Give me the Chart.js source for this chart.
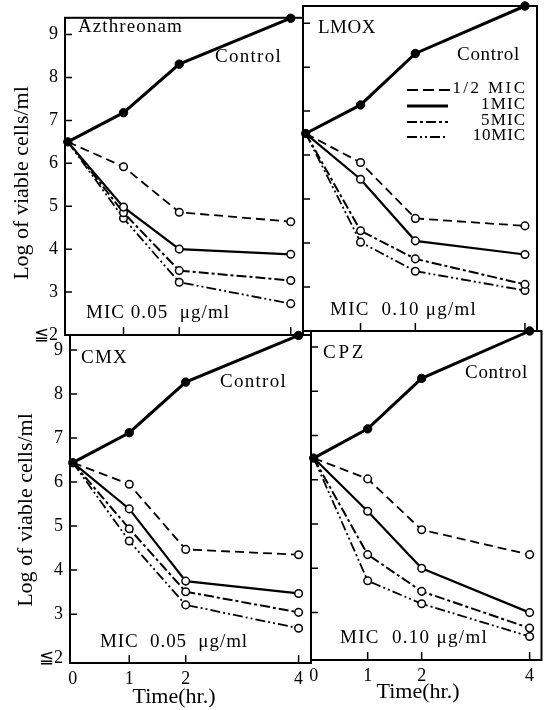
<!DOCTYPE html>
<html>
<head>
<meta charset="utf-8">
<script src="https://cdn.jsdelivr.net/npm/chart.js@4"></script>
<style>
  body { margin: 0; background: #fff; }
  canvas { position: absolute; left: 0; top: 0; }
</style>
</head>
<body>
<canvas id="c0" width="547" height="710"></canvas>
<canvas id="c1" width="547" height="710"></canvas>
<canvas id="c2" width="547" height="710"></canvas>
<canvas id="c3" width="547" height="710"></canvas>
<script>
// time points (hr) and axis ticks
const hours = [0, 1, 2, 4];
const xTickMarks = [1, 2, 4];
const yTickValues = [2, 3, 4, 5, 6, 7, 8, 9];
const seriesLabels = ['Control', '1/2 MIC', '1MIC', '5MIC', '10MIC'];
const drugNames = ['Azthreonam', 'LMOX', 'CMX', 'CPZ'];
const micTexts = ['MIC 0.05  μg/ml', 'MIC  0.10 μg/ml', 'MIC  0.05  μg/ml', 'MIC  0.10 μg/ml'];

// log of viable cells/ml
const aztControl = [6.5, 7.18, 8.31, 9.38];
const aztHalf    = [6.5, 5.92, 4.86, 4.64];
const azt1       = [6.5, 4.98, 4.0, 3.88];
const azt5       = [6.5, 4.85, 3.5, 3.27];
const azt10      = [6.5, 4.72, 3.23, 2.73];

const lmoxControl = [6.49, 7.14, 8.31, 9.39];
const lmoxHalf    = [6.49, 5.83, 4.56, 4.39];
const lmox1       = [6.49, 5.45, 4.05, 3.74];
const lmox5       = [6.49, 4.28, 3.64, 3.06];
const lmox10      = [6.49, 4.02, 3.36, 2.92];

const cmxControl = [6.44, 7.12, 8.27, 9.33];
const cmxHalf    = [6.44, 5.95, 4.47, 4.35];
const cmx1       = [6.44, 5.39, 3.75, 3.47];
const cmx5       = [6.44, 4.94, 3.51, 3.04];
const cmx10      = [6.44, 4.66, 3.21, 2.68];

const cpzControl = [6.49, 7.15, 8.29, 9.36];
const cpzHalf    = [6.49, 6.02, 4.87, 4.31];
const cpz1       = [6.49, 5.29, 4.0, 3.0];
const cpz5       = [6.49, 4.31, 3.48, 2.65];
const cpz10      = [6.49, 3.72, 3.2, 2.46];

const panelSeries = [
  [aztControl, aztHalf, azt1, azt5, azt10],
  [lmoxControl, lmoxHalf, lmox1, lmox5, lmox10],
  [cmxControl, cmxHalf, cmx1, cmx5, cmx10],
  [cpzControl, cpzHalf, cpz1, cpz5, cpz10]
];

// line looks per series
const lineWidths = [3, 1.8, 2.2, 2, 1.8];
const lineDashes = [[], [9, 5], [], [10, 3, 3, 3], [10, 3, 2, 3, 2, 3]];

// where each panel sits on the page (the scan is slightly skewed)
const panels = [
  { left: 65, top: 10, right: 303, bottom: 335, yMin: 2, yMax: 9.39, yLabels: true, xLabels: false,
    name: [78, 27, 105], control: [215, 57, 67], mic: [86, 313, 144], yTitle: [22, 183] },
  { left: 303, top: 6, right: 537, bottom: 331, yMin: 2, yMax: 9.39, yLabels: false, xLabels: false,
    name: [318, 28, 58], control: [457, 55, 63], mic: [330, 310, 147], legend: true },
  { left: 70, top: 335, right: 311, bottom: 663, yMin: 1.89, yMax: 9.34, yLabels: true, xLabels: true,
    name: [81, 358, 47], control: [220, 382, 67], mic: [100, 642, 148], yTitle: [26, 510], xTitle: [174, 697] },
  { left: 311, top: 331, right: 544, bottom: 660, yMin: 1.93, yMax: 9.36, yLabels: false, xLabels: true,
    name: [323, 353, 43], control: [465, 373, 63], mic: [340, 638, 148], xTitle: [418, 692] }
];

const SERIF = "'Liberation Serif', 'DejaVu Serif', serif";

// draw text stretched to a target width with letter spacing
function fitText(ctx, text, x, y, width, align) {
  ctx.letterSpacing = '0px';
  const w = ctx.measureText(text).width;
  const s = (width - w) / text.length;
  ctx.letterSpacing = s.toFixed(2) + 'px';
  ctx.textAlign = align || 'left';
  ctx.fillText(text, align === 'right' ? x + s : x, y);
  ctx.letterSpacing = '0px';
}

const panelDecor = {
  id: 'panelDecor',
  beforeDatasetsDraw(chart, args, opts) {
    const { ctx, chartArea: a, scales: { x, y } } = chart;
    ctx.save();
    ctx.strokeStyle = '#000';
    ctx.lineWidth = 2;
    ctx.strokeRect(a.left, a.top, a.right - a.left, a.bottom - a.top);

    // inward tick marks
    ctx.lineWidth = 1.5;
    ctx.beginPath();
    yTickValues.filter(v => v > 2).forEach(v => {
      const py = y.getPixelForValue(v);
      ctx.moveTo(a.left, py);
      ctx.lineTo(a.left + 7, py);
    });
    xTickMarks.forEach(v => {
      const px = x.getPixelForValue(v);
      ctx.moveTo(px, a.bottom);
      ctx.lineTo(px, a.bottom - 8);
    });
    ctx.stroke();

    // labels
    const p = opts.panel;
    ctx.fillStyle = '#000';
    ctx.textBaseline = 'middle';
    ctx.font = '19px ' + SERIF;
    fitText(ctx, drugNames[opts.index], p.name[0], p.name[1], p.name[2]);
    fitText(ctx, seriesLabels[0], p.control[0], p.control[1], p.control[2]);
    fitText(ctx, micTexts[opts.index], p.mic[0], p.mic[1], p.mic[2]);

    ctx.font = '22px ' + SERIF;
    if (p.yTitle) {
      ctx.save();
      ctx.translate(p.yTitle[0], p.yTitle[1]);
      ctx.rotate(-Math.PI / 2);
      ctx.textAlign = 'center';
      ctx.fillText('Log of viable cells/ml', 0, 0);
      ctx.restore();
    }
    if (p.xTitle) {
      ctx.textAlign = 'center';
      ctx.fillText('Time(hr.)', p.xTitle[0], p.xTitle[1]);
    }

    if (p.legend) {
      const rowsY = [90, 106, 122, 137];
      const widths = [75, 45, 45, 53];
      ctx.font = '17px ' + SERIF;
      for (let k = 1; k < seriesLabels.length; k++) {
        const ds = chart.data.datasets[k];
        const ly = rowsY[k - 1];
        ctx.lineWidth = k === 2 ? 3.2 : 2.2;
        ctx.setLineDash(k === 1 ? [11, 5] : ds.borderDash);
        ctx.beginPath();
        ctx.moveTo(407, ly);
        ctx.lineTo(k === 1 ? 451 : 448, ly);
        ctx.stroke();
        ctx.setLineDash([]);
        fitText(ctx, seriesLabels[k], 525, ly - 1, widths[k - 1], 'right');
      }
    }
    ctx.restore();
  }
};

const tickFont = { family: SERIF, size: 18 };

panels.forEach((p, i) => {
  const series = panelSeries[i];
  const xAxisH = 47;
  new Chart(document.getElementById('c' + i), {
    type: 'line',
    data: {
      datasets: seriesLabels.map((label, k) => ({
        label: label,
        data: hours.map((h, j) => ({ x: h, y: series[k][j] })),
        borderColor: '#000',
        borderWidth: lineWidths[k],
        borderDash: lineDashes[k],
        pointRadius: ctx => (k > 0 && ctx.dataIndex === 0) ? 0 : (k === 0 ? 4.2 : 3.8),
        pointBackgroundColor: k === 0 ? '#000' : '#fff',
        pointBorderColor: '#000',
        pointBorderWidth: k === 0 ? 1 : 1.5,
        tension: 0,
        clip: false
      }))
    },
    options: {
      responsive: false,
      animation: false,
      devicePixelRatio: 1,
      layout: {
        padding: {
          left: p.yLabels ? 0 : p.left,
          top: p.top,
          right: 547 - p.right,
          bottom: 710 - p.bottom - (p.xLabels ? xAxisH : 0)
        }
      },
      plugins: {
        legend: { display: false },
        tooltip: { enabled: false },
        panelDecor: { panel: p, index: i }
      },
      scales: {
        x: {
          type: 'linear',
          min: -0.05,
          max: 4.22,
          display: p.xLabels,
          afterBuildTicks: s => { s.ticks = hours.map(v => ({ value: v })); },
          afterFit: s => { s.height = p.xLabels ? xAxisH : 0; },
          grid: { display: false, drawTicks: false },
          border: { display: false },
          ticks: { font: tickFont, color: '#000', padding: 5, maxRotation: 0, autoSkip: false }
        },
        y: {
          type: 'linear',
          min: p.yMin,
          max: p.yMax,
          display: p.yLabels,
          afterBuildTicks: s => { s.ticks = yTickValues.map(v => ({ value: v })); },
          afterFit: s => { s.width = p.yLabels ? p.left : 0; },
          grid: { display: false, drawTicks: false },
          border: { display: false },
          ticks: {
            font: tickFont,
            color: '#000',
            padding: 7,
            autoSkip: false,
            callback: v => v === 2 ? '≦2' : String(v)
          }
        }
      }
    },
    plugins: [panelDecor]
  });
});
</script>
</body>
</html>
